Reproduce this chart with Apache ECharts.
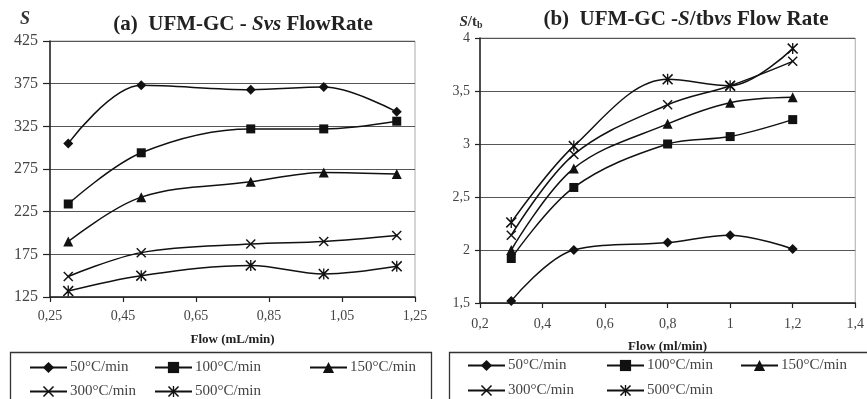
<!DOCTYPE html>
<html><head><meta charset="utf-8">
<script src="https://cdn.jsdelivr.net/npm/echarts@6/dist/echarts.min.js"></script>
<style>html,body{margin:0;padding:0;background:#fff}#c{width:867px;height:399px}</style>
</head><body><div id="c"></div>
<script>
// ---- data ----
const seriesNames = ['50°C/min','100°C/min','150°C/min','300°C/min','500°C/min'];
const flowA = [0.3, 0.5, 0.8, 1.0, 1.2];
const sA_50  = [305, 373, 368, 371, 342];
const sA_100 = [234, 294, 322, 322, 331];
const sA_150 = [190, 242, 260, 271, 269];
const sA_300 = [149, 177, 187, 190, 197];
const sA_500 = [132, 150, 162, 152, 161];
const flowB = [0.3, 0.5, 0.8, 1.0, 1.2];
const sB_50  = [1.52, 2.00, 2.07, 2.14, 2.01];
const sB_100 = [1.92, 2.59, 3.00, 3.07, 3.23];
const sB_150 = [2.00, 2.77, 3.19, 3.39, 3.44];
const sB_300 = [2.14, 2.90, 3.37, 3.55, 3.78];
const sB_500 = [2.26, 2.98, 3.61, 3.55, 3.90];
const xTicksA = [0.25, 0.45, 0.65, 0.85, 1.05, 1.25];
const yTicksA = [125, 175, 225, 275, 325, 375, 425];
const xTicksB = [0.2, 0.4, 0.6, 0.8, 1, 1.2, 1.4];
const yTicksB = [1.5, 2, 2.5, 3, 3.5, 4];

// ---- styling ----
const FF = '"Liberation Serif", "Times New Roman", serif';
const X_PATH = 'path://M0,1L1,0L5,4L9,0L10,1L6,5L10,9L9,10L5,6L1,10L0,9L4,5Z';
const AST_PATH = 'path://M0,1L1,0L5,4L9,0L10,1L6,5L10,9L9,10L5,6L1,10L0,9L4,5ZM4.4,0L5.6,0L5.6,10L4.4,10Z';
const symbols = ['diamond', 'rect', 'triangle', X_PATH, AST_PATH];
const symSizes = [10, 9, 10, 10, 11];
const fmt = v => String(+(+v).toFixed(2)).replace('.', ',');

function mk(idx, xs, ys, gi) {
  return {
    type: 'line', name: seriesNames[idx], xAxisIndex: gi, yAxisIndex: gi,
    data: xs.map((x, i) => [x, ys[i]]),
    smooth: 0.35, symbol: symbols[idx], symbolSize: symSizes[idx], showSymbol: true,
    lineStyle: { color: '#111', width: 1.5 }, itemStyle: { color: '#111' },
    emphasis: { disabled: true }, animation: false
  };
}
const seriesA = [sA_50, sA_100, sA_150, sA_300, sA_500].map((d, i) => mk(i, flowA, d, 0));
const seriesB = [sB_50, sB_100, sB_150, sB_300, sB_500].map((d, i) => mk(i, flowB, d, 1));

function xAx(gi, min, max, ticks, name, gap, margin) {
  return {
    type: 'value', gridIndex: gi, min, max,
    axisLine: { lineStyle: { color: '#222', width: 1.5 } },
    axisTick: { customValues: ticks, length: 5, lineStyle: { color: '#222', width: 1.2 } },
    axisLabel: { customValues: ticks, formatter: fmt, margin, fontFamily: FF, fontSize: 14, color: '#444' },
    splitLine: { show: false },
    name, nameLocation: 'middle', nameGap: gap,
    nameTextStyle: { fontFamily: FF, fontWeight: 'bold', fontSize: 13, color: '#222' }
  };
}
function yAx(gi, min, max, ticks, fs, margin, tl) {
  return {
    type: 'value', gridIndex: gi, min, max,
    axisLine: { show: true, lineStyle: { color: '#222', width: 1.5 } },
    axisTick: { show: true, customValues: ticks, length: tl, lineStyle: { color: '#222', width: 1.2 } },
    axisLabel: { customValues: ticks, formatter: fmt, margin, fontFamily: FF, fontSize: fs, color: '#444' },
    splitLine: { show: true, lineStyle: { color: '#555', width: 1 } }
  };
}

function leg(name, left, top) {
  return {
    data: [name], left, top, padding: 0, itemWidth: 37, itemHeight: 14, itemGap: 0,
    lineStyle: { width: 2 },
    textStyle: { fontFamily: FF, fontSize: 15, color: '#444', padding: [0, 0, 0, -2] },
    selectedMode: false
  };
}

const option = {
  animation: false,
  grid: [
    { left: 50, right: 452, top: 41, bottom: 102, show: true, borderColor: '#aaa', borderWidth: 1 },
    { left: 480, right: 9, top: 38, bottom: 96, show: true, borderColor: '#aaa', borderWidth: 1 }
  ],
  xAxis: [
    xAx(0, 0.25, 1.25, xTicksA, 'Flow (mL/min)', 36, 12),
    xAx(1, 0.2, 1.4, xTicksB, 'Flow (ml/min)', 37, 14)
  ],
  yAxis: [
    yAx(0, 125, 425, yTicksA, 16, 12, 7),
    yAx(1, 1.5, 4, yTicksB, 14, 10, 5)
  ],
  legend: [
    leg(seriesNames[0], 29, 360), leg(seriesNames[1], 154, 360), leg(seriesNames[2], 309, 360),
    leg(seriesNames[3], 29, 384), leg(seriesNames[4], 154, 384),
    leg(seriesNames[0], 467, 358), leg(seriesNames[1], 606, 358), leg(seriesNames[2], 740, 358),
    leg(seriesNames[3], 467, 383), leg(seriesNames[4], 606, 383)
  ],
  graphic: [
    { type: 'rect', shape: { x: 10.5, y: 352.5, width: 421, height: 60 }, style: { fill: 'none', stroke: '#333', lineWidth: 1.3 }, silent: true },
    { type: 'rect', shape: { x: 449.5, y: 352.5, width: 430, height: 60 }, style: { fill: 'none', stroke: '#333', lineWidth: 1.3 }, silent: true },
    { type: 'text', x: 243, y: 25, silent: true, style: {
        text: '{b|(a)  UFM-GC - }{bi|Svs}{b| FlowRate}', align: 'center', verticalAlign: 'middle',
        rich: {
          b: { fontFamily: FF, fontWeight: 'bold', fontSize: 21, fill: '#222' },
          bi: { fontFamily: FF, fontWeight: 'bold', fontStyle: 'italic', fontSize: 21, fill: '#222' }
        } } },
    { type: 'text', x: 686, y: 20, silent: true, style: {
        text: '{b|(b)  UFM-GC -}{bi|S}{b|/tb}{bi|vs}{b| Flow Rate}', align: 'center', verticalAlign: 'middle',
        rich: {
          b: { fontFamily: FF, fontWeight: 'bold', fontSize: 21, fill: '#222' },
          bi: { fontFamily: FF, fontWeight: 'bold', fontStyle: 'italic', fontSize: 21, fill: '#222' }
        } } },
    { type: 'text', x: 25, y: 19, silent: true, style: {
        text: 'S', align: 'center', verticalAlign: 'middle',
        fontFamily: FF, fontWeight: 'bold', fontStyle: 'italic', fontSize: 18, fill: '#333' } },
    { type: 'text', x: 471, y: 22, silent: true, style: {
        text: '{i|S}{n|/t}{s|b}', align: 'center', verticalAlign: 'middle',
        rich: {
          i: { fontFamily: FF, fontWeight: 'bold', fontStyle: 'italic', fontSize: 15, fill: '#333' },
          n: { fontFamily: FF, fontWeight: 'bold', fontSize: 15, fill: '#333' },
          s: { fontFamily: FF, fontWeight: 'bold', fontSize: 10, fill: '#333', verticalAlign: 'bottom', padding: [6, 0, 0, 0] }
        } } }
  ],
  series: seriesA.concat(seriesB)
};
const chart = echarts.init(document.getElementById('c'), null, { renderer: 'canvas' });
chart.setOption(option);
</script>
</body></html>
